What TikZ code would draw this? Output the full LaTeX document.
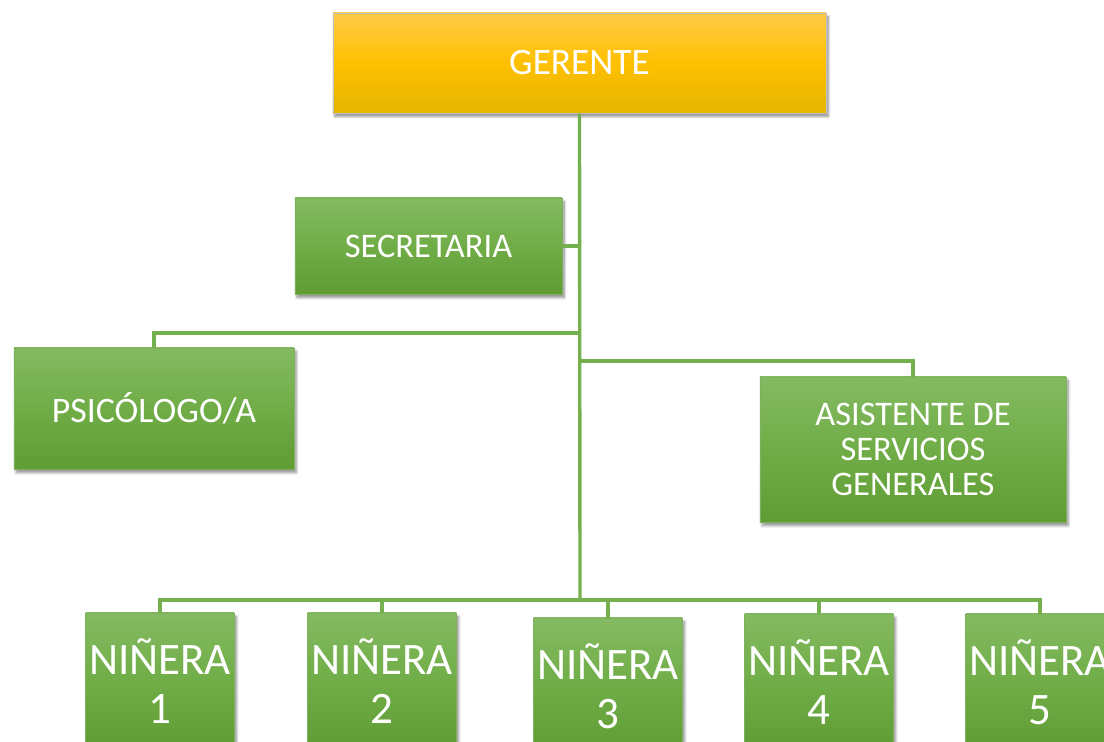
\documentclass[tikz,border=0pt]{standalone}
\usepackage{fontspec}
\setmainfont{Carlito}
\usepackage{tikz}
\usetikzlibrary{positioning, shadows, shadows.blur}

\definecolor{oroA}{RGB}{255,203,72}
\definecolor{oroB}{RGB}{255,192,0}
\definecolor{oroC}{RGB}{228,181,0}
\definecolor{verdeA}{RGB}{132,186,97}
\definecolor{verdeB}{RGB}{112,173,71}
\definecolor{verdeC}{RGB}{95,156,52}
\definecolor{lineaV}{RGB}{116,176,78}

\begin{document}
\begin{tikzpicture}[
  x=0.025cm, y=-0.025cm,
  jefe/.style={rectangle, draw=black!25, top color=oroA, bottom color=oroC, middle color=oroB, text=white, minimum width=12.33cm, minimum height=2.5cm, font=\fontsize{26.5}{30}\selectfont, blur shadow={shadow xshift=1.5pt, shadow yshift=-2.5pt, shadow blur steps=6, shadow opacity=45}},
  cargo/.style={rectangle, draw=verdeC!80, top color=verdeA, bottom color=verdeC, middle color=verdeB, text=white, align=center, font=\fontsize{24.5}{25}\selectfont, blur shadow={shadow xshift=1.5pt, shadow yshift=-2.5pt, shadow blur steps=6, shadow opacity=45}},
  ninera/.style={cargo, minimum width=3.72cm, minimum height=3.4cm, inner sep=1pt, font=\fontsize{32}{35}\selectfont},
  linea/.style={draw=lineaV, line width=2.4pt}
]
\useasboundingbox (0,0) rectangle (1104,742);

% Gerente
\node[jefe] (gerente) at (579.5,63) {GERENTE};

% Apoyo
\node[cargo, minimum width=6.68cm, minimum height=2.4cm] (secretaria) at (428.5,246) {SECRETARIA};
\node[cargo, minimum width=7cm, minimum height=3.03cm, font=\fontsize{25.5}{25}\selectfont] (psicologo) at (154,408.5) {PSICÓLOGO/A};
\node[cargo, minimum width=7.65cm, minimum height=3.63cm] (asistente) at (913,449.5) {ASISTENTE DE\\SERVICIOS\\GENERALES};

% Niñeras
\node[ninera] (n1) at (160,681) {NIÑERA\\1};
\node[ninera] (n2) at (382,681) {NIÑERA\\2};
\node[ninera] (n3) at (608,686) {NIÑERA\\3};
\node[ninera] (n4) at (819,682) {NIÑERA\\4};
\node[ninera] (n5) at (1040,682) {NIÑERA\\5};

% Conexiones
\coordinate (jpsico) at (580,333);
\coordinate (jasist) at (580,361);
\coordinate (bus) at (580,600);

\draw[linea] (gerente.south) -- (bus);
\draw[linea] (secretaria.east) -- (secretaria.east -| bus);
\draw[linea] (jpsico) -| (psicologo.north);
\draw[linea] (jasist) -| (asistente.north);
\foreach \n in {n1,n2,n3,n4,n5}
  \draw[linea] (bus) -| (\n.north);

\end{tikzpicture}
\end{document}
